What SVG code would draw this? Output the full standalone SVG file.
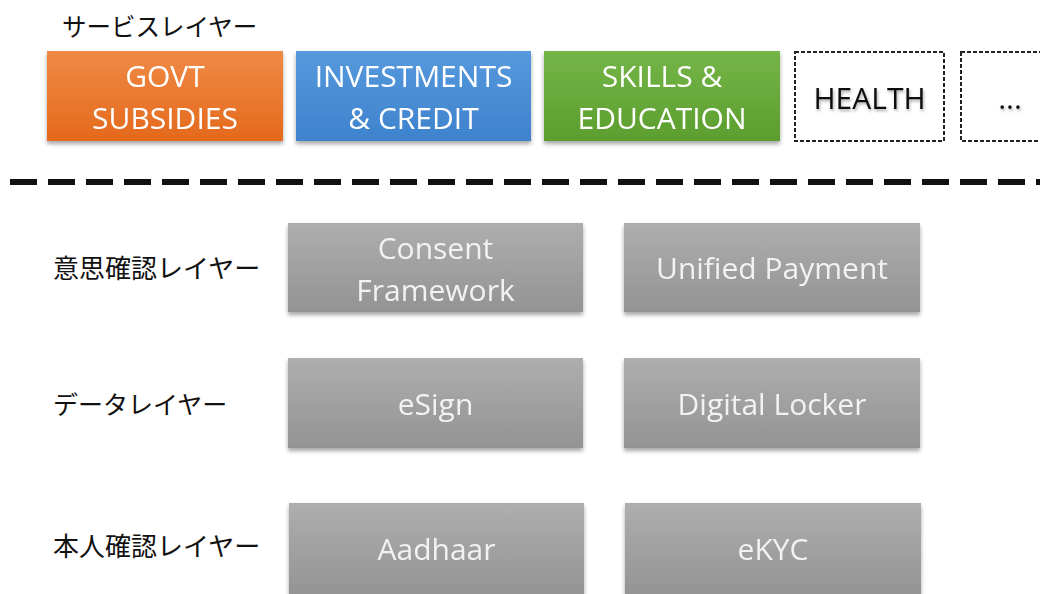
<svg xmlns="http://www.w3.org/2000/svg" width="1040" height="594" viewBox="0 0 1040 594">
  <style>
    .layer { font-family: "Noto Sans CJK JP", "Noto Sans", sans-serif; font-size: 25px; font-weight: 400; fill: #111111; }
    .lbl { font-family: "Open Sans", "Liberation Sans", sans-serif; font-size: 30px; text-anchor: middle; }
    .wht { fill: #FFFFFF; }
    .gry { fill: #F2F2F2; }
    .blk { fill: #111111; }
    .dashbox { fill: #FFFFFF; stroke: #222222; stroke-width: 2; stroke-dasharray: 4 2; }
  </style>
  <defs>
    <linearGradient id="gOrange" x1="0" y1="0" x2="0" y2="1">
      <stop offset="0" stop-color="#F08A45"/>
      <stop offset="1" stop-color="#E4691C"/>
    </linearGradient>
    <linearGradient id="gBlue" x1="0" y1="0" x2="0" y2="1">
      <stop offset="0" stop-color="#5699DD"/>
      <stop offset="1" stop-color="#3E82CD"/>
    </linearGradient>
    <linearGradient id="gGreen" x1="0" y1="0" x2="0" y2="1">
      <stop offset="0" stop-color="#74B548"/>
      <stop offset="1" stop-color="#5C9E2E"/>
    </linearGradient>
    <linearGradient id="gGray" x1="0" y1="0" x2="0" y2="1">
      <stop offset="0" stop-color="#AEAEAE"/>
      <stop offset="1" stop-color="#939393"/>
    </linearGradient>
    <filter id="shadow" x="-5%" y="-10%" width="110%" height="125%">
      <feDropShadow dx="0" dy="3" stdDeviation="2" flood-color="#000000" flood-opacity="0.35"/>
    </filter>
    <filter id="tshadow" x="-5%" y="-20%" width="110%" height="150%">
      <feDropShadow dx="1" dy="2" stdDeviation="1.5" flood-color="#000000" flood-opacity="0.35"/>
    </filter>
  </defs>

  <rect width="1040" height="594" fill="#FFFFFF"/>

  <!-- layer titles -->
  <text class="layer" x="62" y="36" style="font-size:24.5px">サービスレイヤー</text>
  <text class="layer" x="53" y="278" style="font-size:26px">意思確認レイヤー</text>
  <text class="layer" x="53" y="414">データレイヤー</text>
  <text class="layer" x="53" y="556" style="font-size:26px">本人確認レイヤー</text>

  <!-- service layer -->
  <g id="govt" filter="url(#shadow)">
    <rect x="47" y="51" width="236" height="90" fill="url(#gOrange)"/>
    <text class="lbl wht" x="165" y="87">GOVT</text>
    <text class="lbl wht" x="165" y="129">SUBSIDIES</text>
  </g>
  <g id="invest" filter="url(#shadow)">
    <rect x="296" y="51" width="235" height="90" fill="url(#gBlue)"/>
    <text class="lbl wht" x="413.5" y="87">INVESTMENTS</text>
    <text class="lbl wht" x="413.5" y="129">&amp; CREDIT</text>
  </g>
  <g id="skills" filter="url(#shadow)">
    <rect x="544" y="51" width="236" height="90" fill="url(#gGreen)"/>
    <text class="lbl wht" x="662" y="87">SKILLS &amp;</text>
    <text class="lbl wht" x="662" y="129">EDUCATION</text>
  </g>
  <g id="health">
    <rect class="dashbox" x="795" y="52" width="149" height="89"/>
    <text class="lbl blk" x="869.5" y="109" filter="url(#tshadow)">HEALTH</text>
  </g>
  <g id="more">
    <rect class="dashbox" x="961" y="52" width="90" height="89"/>
    <text class="lbl blk" x="1010" y="109" filter="url(#tshadow)">...</text>
  </g>

  <!-- separator -->
  <g id="connectors">
    <line x1="10" y1="182" x2="1040" y2="182" stroke="#111111" stroke-width="6" stroke-dasharray="27 11"/>
  </g>

  <!-- consent layer -->
  <g id="consent" filter="url(#shadow)">
    <rect x="288" y="223" width="295" height="89" fill="url(#gGray)"/>
    <text class="lbl gry" x="435.5" y="259">Consent</text>
    <text class="lbl gry" x="435.5" y="301">Framework</text>
  </g>
  <g id="upi" filter="url(#shadow)">
    <rect x="624" y="223" width="296" height="89" fill="url(#gGray)"/>
    <text class="lbl gry" x="772" y="279">Unified Payment</text>
  </g>

  <!-- data layer -->
  <g id="esign" filter="url(#shadow)">
    <rect x="288" y="358" width="295" height="90" fill="url(#gGray)"/>
    <text class="lbl gry" x="435.5" y="415">eSign</text>
  </g>
  <g id="locker" filter="url(#shadow)">
    <rect x="624" y="358" width="296" height="90" fill="url(#gGray)"/>
    <text class="lbl gry" x="772" y="415">Digital Locker</text>
  </g>

  <!-- identity layer -->
  <g id="aadhaar" filter="url(#shadow)">
    <rect x="289" y="503" width="295" height="95" fill="url(#gGray)"/>
    <text class="lbl gry" x="436.5" y="560">Aadhaar</text>
  </g>
  <g id="ekyc" filter="url(#shadow)">
    <rect x="625" y="503" width="296" height="95" fill="url(#gGray)"/>
    <text class="lbl gry" x="773" y="560">eKYC</text>
  </g>
</svg>
